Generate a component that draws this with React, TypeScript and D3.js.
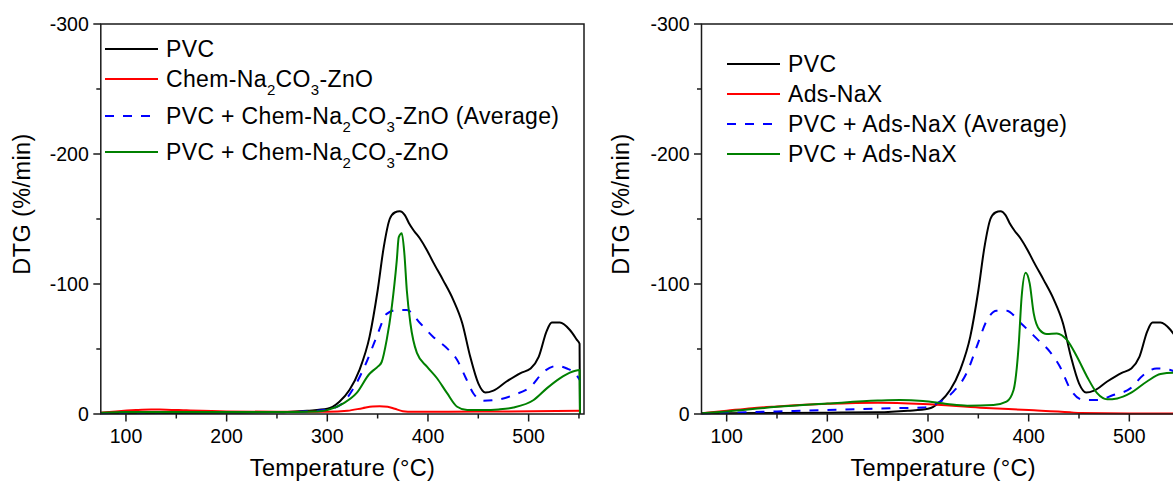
import React from "react";
import * as d3 from "d3";

// Temperature grid (°C) and DTG values (%/min) for each curve
const pvcT = [75, 100, 150, 200, 250, 280, 300, 312, 322, 332, 342, 350, 356, 362, 367, 372, 377, 381, 386, 392, 399, 405, 415, 425, 434, 442, 450, 457, 465, 478, 492, 502, 510, 518, 523, 531, 541, 548, 550.6, 551];
const pvcV = [-0.5, -0.5, -0.8, -1, -1.3, -2.5, -4, -9.5, -18.5, -34, -59.5, -95, -128, -150, -155, -156, -153, -147, -141, -135, -126, -117, -103, -88, -70, -44, -23.6, -16.5, -18, -25, -31.5, -35, -44, -64, -70.3, -70.3, -64.6, -57, -54, 0];

const chemT = [75, 90, 110, 125, 140, 160, 200, 250, 300, 320, 335, 345, 352, 360, 367, 375, 385, 420, 480, 551];
const chemV = [-1, -2, -3, -3.4, -3.3, -2.8, -2, -1.7, -1.8, -2.5, -4.5, -5.8, -6, -5.6, -4, -2.2, -1.7, -1.8, -2, -2.5];

const chemAvgT = [75, 100, 150, 200, 250, 290, 300, 313, 326, 339, 349, 359, 369, 379, 392, 405, 419, 429, 437, 445, 455, 468, 485, 502, 515, 528, 538, 546, 551];
const chemAvgV = [-0.5, -1, -1.5, -1.5, -1.5, -2.5, -3.5, -7, -19.7, -40, -59.5, -77, -80, -80, -70, -59.5, -50.5, -41.5, -28.7, -16, -10.2, -10.8, -14.6, -21, -32.5, -37, -35, -31.3, -26];

const chemMixT = [75, 100, 150, 200, 250, 290, 300, 316, 329, 342, 348, 351, 354, 359, 364, 369, 371, 374, 376.5, 379, 382.5, 389, 399, 409, 419, 429, 439, 455, 470, 485, 505, 518, 531, 541, 550.6, 551];
const chemMixV = [-1, -1.5, -1.5, -1.5, -1.5, -2, -3, -8.2, -16, -31, -35, -37, -40, -57, -82, -118, -136, -139, -124, -95, -70, -47, -36.5, -27.5, -16, -5.6, -3, -3, -3.5, -5, -10.8, -19.7, -27.4, -31.8, -33.8, 0];

const naxT = [75, 100, 125, 150, 200, 250, 295, 352, 400, 441, 452, 500, 551];
const naxV = [-0.5, -2.5, -4.5, -5.8, -7.8, -8.7, -7.7, -4.9, -3, -1.3, -0.7, -0.4, -0.3];

const naxAvgT = [75, 100, 150, 200, 262, 295, 312, 325, 339, 348.5, 358.5, 368, 378, 392, 408, 421, 431, 441, 454.5, 468, 484, 501, 514, 527, 540, 551];
const naxAvgV = [-0.3, -1, -2, -3, -4.4, -5, -9.5, -17, -32.5, -52, -72, -79.5, -79.5, -70, -58, -48, -36.5, -19.7, -10.8, -10.8, -14.6, -19.7, -30, -35, -34, -30];

const naxMixT = [75, 100, 150, 200, 250, 272, 295, 319, 339, 365, 378, 385, 390, 393, 397, 401, 405, 411, 418, 428, 438, 448, 458, 468, 478, 488, 501, 517.5, 531, 544, 551];
const naxMixV = [-0.5, -2, -5.5, -8, -10.3, -10.8, -10, -7.7, -6.4, -6.9, -9.5, -18.5, -52, -90, -108.7, -100.5, -77.4, -64.6, -61.5, -62, -57, -44, -28.7, -16, -11.3, -12, -16, -25, -30.8, -31.8, -31];

const xMajor = [100, 200, 300, 400, 500];
const xMinor = [150, 250, 350, 450, 550];
const yMajor = [0, -100, -200, -300];
const yMinor = [-50, -150, -250];

const FONT = "Arial, 'Liberation Sans', sans-serif";
const LEGEND_SIZE = 23;

type Series = { t: number[]; v: number[]; color: string; dash?: string };
type LegendLabel = { parts: { text: string; sub?: boolean }[] };

const zip = (t: number[], v: number[]) => t.map((x, i) => [x, v[i]] as [number, number]);

function Label({ parts, x, y }: { parts: { text: string; sub?: boolean }[]; x: number; y: number }) {
  // Main text with subscripts set smaller and shifted below the baseline
  const nodes: React.ReactNode[] = [];
  let shifted = false;
  parts.forEach((p, i) => {
    let dy = 0;
    if (p.sub && !shifted) { dy = 8; shifted = true; }
    else if (!p.sub && shifted) { dy = -8; shifted = false; }
    nodes.push(
      <tspan key={i} dy={dy} fontSize={p.sub ? 15 : LEGEND_SIZE}>{p.text}</tspan>
    );
  });
  return (
    <text x={x} y={y + LEGEND_SIZE * 0.36} fontFamily={FONT} fontSize={LEGEND_SIZE}
      letterSpacing={0.35} fill="#000">{nodes}</text>
  );
}

function Panel({
  id, left, series, legend, legendX, legendRows, titleX, clipRight,
}: {
  id: string; left: number; series: Series[]; legend: LegendLabel[];
  legendX: number; legendRows: number[]; titleX: number; clipRight: number;
}) {
  const top = 24, bottom = 414;
  const x = d3.scaleLinear().domain([75, 555]).range([left, left + 483.2]);
  const y = d3.scaleLinear().domain([0, -300]).range([bottom, top]);
  const line = d3.line<[number, number]>().x(d => x(d[0])).y(d => y(d[1])).curve(d3.curveMonotoneX);
  const x0 = x.range()[0], x1 = x.range()[1];
  const axisColor = "#1a1a1a";
  return (
    <g>
      <defs>
        <clipPath id={`clip-${id}`}>
          <rect x={x0} y={top - 2} width={Math.min(x1, clipRight) - x0} height={bottom - top + 6} />
        </clipPath>
      </defs>
      <g clipPath={`url(#clip-${id})`}>
        {series.map((s, i) => (
          <path key={i} d={line(zip(s.t, s.v)) || ""} fill="none" stroke={s.color}
            strokeWidth={2} strokeDasharray={s.dash} strokeLinejoin="round" />
        ))}
      </g>
      {/* frame */}
      <rect x={x0} y={top} width={x1 - x0} height={bottom - top} fill="none" stroke={axisColor} strokeWidth={1.5} />
      {/* x ticks */}
      {xMajor.map(t => (
        <g key={`xM${t}`}>
          <line x1={x(t)} x2={x(t)} y1={bottom} y2={bottom + 7.5} stroke={axisColor} strokeWidth={1.5} />
          <text x={x(t)} y={443} textAnchor="middle" fontFamily={FONT} fontSize={19.5}>{t}</text>
        </g>
      ))}
      {xMinor.map(t => (
        <line key={`xm${t}`} x1={x(t)} x2={x(t)} y1={bottom} y2={bottom + 4.5} stroke={axisColor} strokeWidth={1.5} />
      ))}
      {/* y ticks */}
      {yMajor.map(v => (
        <g key={`yM${v}`}>
          <line x1={x0 - 7.5} x2={x0} y1={y(v)} y2={y(v)} stroke={axisColor} strokeWidth={1.5} />
          <text x={x0 - 12} y={y(v)} dy="0.36em" textAnchor="end" fontFamily={FONT} fontSize={19.5}>{v}</text>
        </g>
      ))}
      {yMinor.map(v => (
        <line key={`ym${v}`} x1={x0 - 4.5} x2={x0} y1={y(v)} y2={y(v)} stroke={axisColor} strokeWidth={1.5} />
      ))}
      {/* axis titles */}
      <text x={x0 + 241.7} y={476} textAnchor="middle" fontFamily={FONT} fontSize={23.5} letterSpacing={0.3}>
        Temperature (°C)
      </text>
      <text transform={`translate(${titleX},204) rotate(-90)`} textAnchor="middle" dy="0.36em"
        fontFamily={FONT} fontSize={23.5} letterSpacing={0.4}>
        DTG (%/min)
      </text>
      {/* legend */}
      {legend.map((l, i) => (
        <g key={`lg${i}`}>
          <line x1={legendX} x2={legendX + 53} y1={legendRows[i]} y2={legendRows[i]}
            stroke={series[i].color} strokeWidth={2} strokeDasharray={series[i].dash} />
          <Label parts={l.parts} x={legendX + 61} y={legendRows[i]} />
        </g>
      ))}
    </g>
  );
}

const DASH = "9 9";

export default function App() {
  const leftSeries: Series[] = [
    { t: pvcT, v: pvcV, color: "#000000" },
    { t: chemT, v: chemV, color: "#ff0000" },
    { t: chemAvgT, v: chemAvgV, color: "#0000ff", dash: DASH },
    { t: chemMixT, v: chemMixV, color: "#008000" },
  ];
  const rightSeries: Series[] = [
    { t: pvcT, v: pvcV, color: "#000000" },
    { t: naxT, v: naxV, color: "#ff0000" },
    { t: naxAvgT, v: naxAvgV, color: "#0000ff", dash: DASH },
    { t: naxMixT, v: naxMixV, color: "#008000" },
  ];
  const chemName = [
    { text: "Chem-Na" }, { text: "2", sub: true }, { text: "CO" }, { text: "3", sub: true }, { text: "-ZnO" },
  ];
  const leftLegend: LegendLabel[] = [
    { parts: [{ text: "PVC" }] },
    { parts: chemName },
    { parts: [{ text: "PVC + " }, ...chemName, { text: " (Average)" }] },
    { parts: [{ text: "PVC + " }, ...chemName] },
  ];
  const rightLegend: LegendLabel[] = [
    { parts: [{ text: "PVC" }] },
    { parts: [{ text: "Ads-NaX" }] },
    { parts: [{ text: "PVC + Ads-NaX (Average)" }] },
    { parts: [{ text: "PVC + Ads-NaX" }] },
  ];
  return (
    <svg width={1173} height={481} style={{ position: "absolute", left: 0, top: 0, background: "#fff" }}>
      <rect width={1173} height={481} fill="#fff" />
      <Panel id="l" left={100.8} series={leftSeries} legend={leftLegend} legendX={105}
        legendRows={[49, 79, 116, 152]} titleX={21.5} clipRight={1173} />
      <Panel id="r" left={701.5} series={rightSeries} legend={rightLegend} legendX={727}
        legendRows={[64, 94, 124, 154]} titleX={621} clipRight={1173} />
    </svg>
  );
}
